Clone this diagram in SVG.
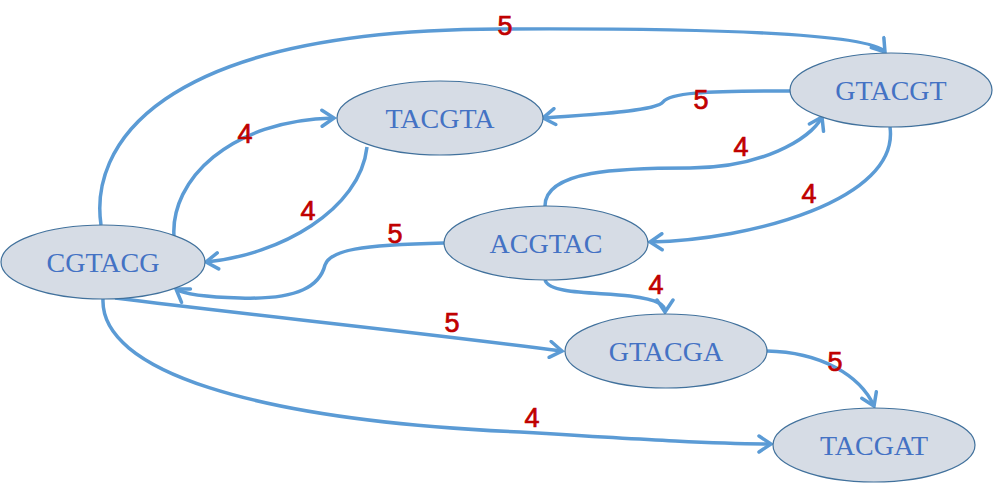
<svg xmlns="http://www.w3.org/2000/svg" width="994" height="484" viewBox="0 0 994 484">
<defs>
<marker id="arr" markerUnits="userSpaceOnUse" markerWidth="20" markerHeight="20" viewBox="-14 -10 16 20" refX="0" refY="0" orient="auto">
<path d="M-12,-8 L0,0 L-12,8" fill="none" stroke="#5B9BD5" stroke-width="3.5" stroke-linecap="round" stroke-linejoin="miter"/>
</marker>
<style>
.node ellipse{fill:#D6DCE5;stroke:#41719C;stroke-width:1.2}
.node text{font-family:"Liberation Serif",serif;font-size:28px;fill:#4472C4;text-anchor:middle;dominant-baseline:central}
.edges path{fill:none;stroke:#5B9BD5;stroke-width:3.5;marker-end:url(#arr)}
.lbl{font-family:"Liberation Sans",Arial,sans-serif;font-size:27px;fill:#C00000;stroke:#C00000;stroke-width:0.7;text-anchor:middle;dominant-baseline:central}
</style>
</defs>
<g class="edges" id="connectors">
<path d="M101,225 C90,150 150,30 500,29 C700,28 870,33 885,52"/>
<path d="M174,237 C170,180 230,120 334,118"/>
<path d="M367,147 C360,210 280,255 206,262"/>
<path d="M790,91 C700,91 670,93 663,102 C655,113 560,116 543,118"/>
<path d="M545,206 C545,170 620,168 690,168 C760,168 810,140 822,117"/>
<path d="M890,127 C900,200 750,240 650,242"/>
<path d="M444,243 C360,245 330,250 325,265 C320,285 300,300 240,298 C200,297 182,293 176,289"/>
<path d="M115,298 C250,315 400,330 562,351"/>
<path d="M545,280 C550,295 600,292 630,296 C660,300 665,305 665,312"/>
<path d="M767,351 C820,352 860,375 874,406"/>
<path d="M103,299 C100,370 250,420 520,432 C650,440 720,444 771,444"/>
</g>
<g id="labels">
<text class="lbl" x="505" y="26">5</text>
<text class="lbl" x="245" y="134">4</text>
<text class="lbl" x="308" y="211">4</text>
<text class="lbl" x="701" y="100">5</text>
<text class="lbl" x="741" y="147">4</text>
<text class="lbl" x="809" y="194">4</text>
<text class="lbl" x="395" y="234">5</text>
<text class="lbl" x="452" y="323">5</text>
<text class="lbl" x="656" y="285">4</text>
<text class="lbl" x="835" y="362">5</text>
<text class="lbl" x="532" y="418">4</text>
</g>
<g class="node" id="CGTACG"><ellipse cx="103" cy="262" rx="102" ry="37"/><text x="103" y="262">CGTACG</text></g>
<g class="node" id="TACGTA"><ellipse cx="440" cy="118" rx="103" ry="37"/><text x="440" y="118">TACGTA</text></g>
<g class="node" id="GTACGT"><ellipse cx="891" cy="90" rx="101" ry="37"/><text x="891" y="90">GTACGT</text></g>
<g class="node" id="ACGTAC"><ellipse cx="546" cy="243" rx="102" ry="37"/><text x="546" y="243">ACGTAC</text></g>
<g class="node" id="GTACGA"><ellipse cx="666" cy="351" rx="101" ry="37"/><text x="666" y="351">GTACGA</text></g>
<g class="node" id="TACGAT"><ellipse cx="874" cy="445" rx="101" ry="37"/><text x="874" y="445">TACGAT</text></g>
</svg>
